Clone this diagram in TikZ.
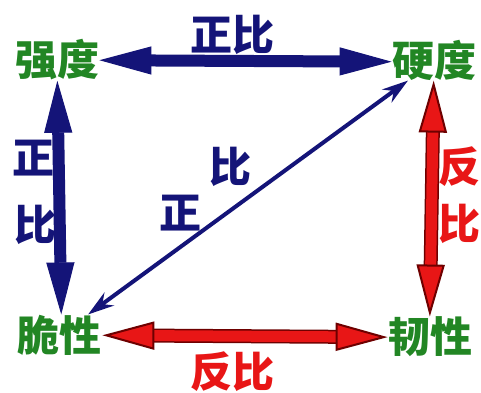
\documentclass[tikz,border=0pt]{standalone}
\usepackage{fontspec}
\newfontfamily\cjk{Noto Sans CJK SC}
\usetikzlibrary{arrows.meta}
\definecolor{zhengblue}{RGB}{20,20,120}
\definecolor{fanred}{RGB}{232,22,22}
\definecolor{fandark}{RGB}{110,0,0}
\definecolor{xinggreen}{RGB}{34,134,36}
\tikzset{
  word/.style={font=\cjk\bfseries\fontsize{21}{21}\selectfont, inner sep=0pt},
  bluehead/.tip={Triangle[length=26pt,width=14pt,line width=0.5pt]},
  redhead/.tip={Triangle[length=26pt,width=14pt,line width=1pt,color=fandark,fill=fanred]},
  bluearrow/.style={draw=zhengblue, line width=6pt, bluehead-bluehead},
  redarrow/.style={draw=fanred, line width=5.5pt, redhead-redhead,
    preaction={draw=fandark, line width=7pt, -, shorten <=18pt, shorten >=18pt}},
  thinarrow/.style={draw=zhengblue, line width=2pt,
    {Stealth[length=13pt,width=8pt]}-{Stealth[length=13pt,width=8pt]}}
}
\begin{document}
\begin{tikzpicture}[x=0.5pt,y=0.5pt]
    \clip (0,0) rectangle (481,392);
    \fill[white] (0,0) rectangle (481,392);
    % properties
    \node[word, text=xinggreen] (qiang) at (57,332) {强度};
    \node[word, text=xinggreen] (ying) at (434,332) {硬度};
    \node[word, text=xinggreen] (cui) at (60,57) {脆性};
    \node[word, text=xinggreen] (ren) at (430,55) {韧性};
    % relations
    \draw[bluearrow] ([shift={(53,-13)}]qiang) -- ([shift={(-49,-13)}]ying);
    \draw[bluearrow] ([shift={(18,-28)}]qiang) -- ([shift={(15,25)}]cui);
    \draw[redarrow] ([shift={(-6,-28)}]ying) -- ([shift={(-2,22)}]ren);
    \draw[redarrow] ([shift={(50,-3)}]cui) -- ([shift={(-45,-1)}]ren);
    \draw[thinarrow] ([shift={(60,27)}]cui) -- ([shift={(-56,-48)}]ying);
    % labels
    \node[word, text=zhengblue] (zb1) at (232,357) {正比};
    \node[word, text=zhengblue] (zb2) at (33,234) {正};
    \node[word, text=zhengblue] (zb3) at (35,167) {比};
    \node[word, text=zhengblue] (zb4) at (230,225) {比};
    \node[word, text=zhengblue] (zb5) at (180,179) {正};
    \node[word, text=fanred] (fb1) at (459,225) {反};
    \node[word, text=fanred] (fb2) at (459,168) {比};
    \node[word, text=fanred] (fb3) at (232,20) {反比};
\end{tikzpicture}
\end{document}
